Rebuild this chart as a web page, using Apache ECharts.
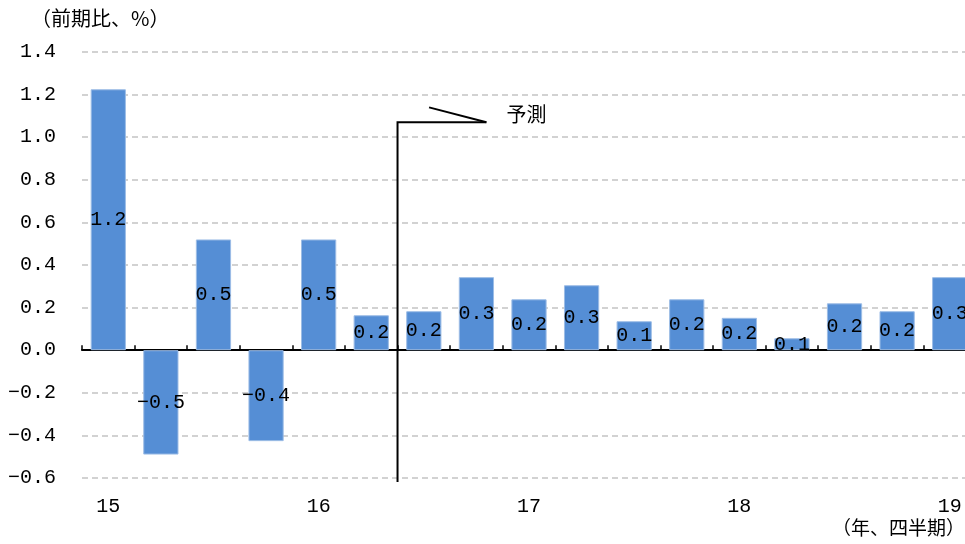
<!DOCTYPE html>
<html>
<head>
<meta charset="utf-8">
<script src="https://cdn.jsdelivr.net/npm/echarts@6/dist/echarts.min.js"></script>
<style>
  html, body { margin: 0; padding: 0; background: #fff; }
  #main { width: 965px; height: 544px; }
</style>
</head>
<body>
<div id="main"></div>
<script>
// 四半期ラベル（年の最初の四半期のみ表示）
var categories = ['15', '', '', '', '16', '', '', '', '17', '', '', '', '18', '', '', '', '19'];
// 前期比（%）
var growth = [1.225, -0.49, 0.52, -0.427, 0.52, 0.164, 0.183, 0.343, 0.239, 0.305, 0.136, 0.239, 0.152, 0.056, 0.22, 0.183, 0.343];
// 予測開始の位置（この番号の棒から予測）
var forecastStart = 6;
var yTicks = [-0.6, -0.4, -0.2, 0.0, 0.2, 0.4, 0.6, 0.8, 1.0, 1.2, 1.4];

var FONT = '"Liberation Mono", "Noto Sans CJK JP", monospace';
var JP = '"Noto Sans CJK JP", sans-serif';

function fmt(v) {
  var s = Number(v).toFixed(1);
  return s.replace('-', '\u2212');
}

var chartDom = document.getElementById('main');
var myChart = echarts.init(chartDom);
var option;

option = {
  animation: false,
  grid: { left: 82, right: -11, top: 52, bottom: 66, outerBoundsMode: 'none', containLabel: false },
  xAxis: [
    {
      type: 'category',
      data: categories,
      axisLine: { onZero: true, lineStyle: { color: '#000', width: 2 } },
      axisTick: { show: true, inside: true, length: 5, interval: 0, lineStyle: { color: '#000', width: 1.5 } },
      axisLabel: { show: false },
      splitLine: { show: false }
    },
    {
      type: 'category',
      data: categories,
      position: 'bottom',
      axisLine: { show: false, onZero: false },
      axisTick: { show: false },
      axisLabel: { interval: 0, margin: 19, color: '#000', fontFamily: FONT, fontSize: 20 },
      splitLine: { show: false }
    }
  ],
  yAxis: {
    type: 'value',
    min: yTicks[0],
    max: yTicks[yTicks.length - 1],
    interval: 0.2,
    axisLine: { show: false },
    axisTick: { show: false },
    axisLabel: {
      margin: 26,
      color: '#000',
      fontFamily: FONT,
      fontSize: 20,
      formatter: function (v) { return fmt(v); }
    },
    splitLine: { lineStyle: { color: '#c3c3c3', type: [6, 4], width: 1.5 } }
  },
  series: [
    {
      type: 'bar',
      data: growth,
      xAxisIndex: 0,
      barCategoryGap: '33%',
      itemStyle: { color: '#558ed5', borderColor: '#9dbde6', borderWidth: 1 },
      label: {
        show: true,
        position: 'inside',
        color: '#000',
        fontFamily: FONT,
        fontSize: 20,
        formatter: function (p) { return fmt(p.value); }
      }
    }
  ]
};

option && myChart.setOption(option);

// 予測の区切り線と注記
var xa = myChart.convertToPixel({ xAxisIndex: 0 }, forecastStart - 1);
var xb = myChart.convertToPixel({ xAxisIndex: 0 }, forecastStart);
var xLine = (xa + xb) / 2;
var step = xb - xa;
var yTop = myChart.convertToPixel({ yAxisIndex: 0 }, 1.07);
var yBottom = myChart.convertToPixel({ yAxisIndex: 0 }, yTicks[0]) + 4;
var yDiag = myChart.convertToPixel({ yAxisIndex: 0 }, 1.14);
var xEnd = xLine + step * 1.69;

myChart.setOption({
  graphic: [
    {
      type: 'polyline',
      shape: { points: [[xLine, yBottom], [xLine, yTop], [xEnd, yTop]] },
      style: { stroke: '#000', lineWidth: 2, fill: null }
    },
    {
      type: 'line',
      shape: { x1: xLine + step * 0.6, y1: yDiag, x2: xEnd, y2: yTop },
      style: { stroke: '#000', lineWidth: 2 }
    },
    {
      type: 'text',
      x: xEnd + 20,
      y: yTop - 8,
      style: { text: '予測', font: '20px ' + JP, fill: '#000', textVerticalAlign: 'middle' }
    },
    {
      type: 'text',
      left: 31,
      top: 8,
      style: { text: '（前期比、%）', font: '20px ' + JP, fill: '#000' }
    },
    {
      type: 'text',
      right: 0,
      top: 518,
      style: { text: '（年、四半期）', font: '19px ' + JP, fill: '#000' }
    }
  ]
});
</script>
</body>
</html>
